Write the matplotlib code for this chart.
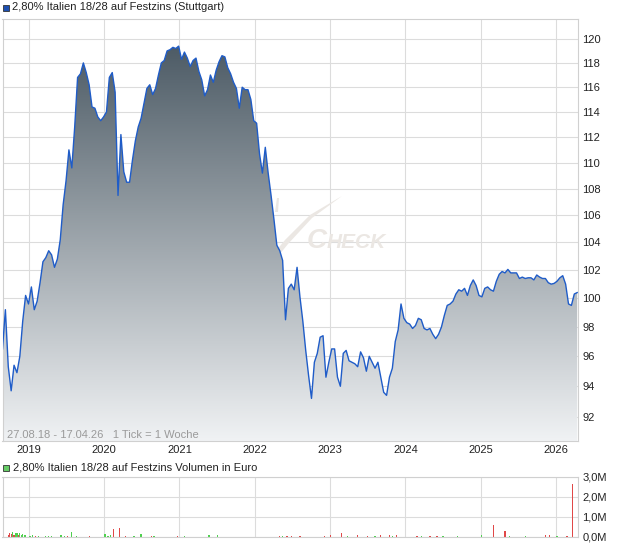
import matplotlib
matplotlib.use("Agg")
import matplotlib.pyplot as plt
import matplotlib.dates as mdates
import matplotlib.ticker as mticker
from matplotlib.colors import LinearSegmentedColormap
from matplotlib.patches import Rectangle, Polygon
import numpy as np
import pandas as pd

plt.rcParams["font.family"] = ["Liberation Sans", "DejaVu Sans"]

title = "2,80% Italien 18/28 auf Festzins (Stuttgart)"
vol_title = "2,80% Italien 18/28 auf Festzins Volumen in Euro"
range_note = "27.08.18 - 17.04.26   1 Tick = 1 Woche"

start, end = "2018-08-27", "2026-04-17"

price = [
    96.5, 99.2, 95.3, 93.7, 95.4, 94.9, 96.0, 98.4, 100.2, 99.6,
    100.8, 99.2, 99.8, 101.1, 102.6, 102.9, 103.4, 103.1, 102.2, 102.8,
    104.2, 106.8, 108.6, 111.0, 109.6, 112.8, 116.8, 117.1, 118.0, 117.2,
    116.2, 114.4, 114.3, 113.6, 113.3, 113.6, 114.0, 116.8, 117.2, 115.6,
    107.5, 112.2, 109.3, 108.5, 108.5, 110.2, 111.7, 112.8, 113.5, 114.7,
    115.9, 116.2, 115.4, 115.9, 117.0, 118.0, 118.2, 119.0, 119.1, 119.3,
    119.2, 119.4, 118.3, 118.9, 118.4, 117.7, 118.2, 118.4, 117.3, 116.6,
    115.3, 115.8, 117.0, 116.4, 117.4, 118.1, 118.6, 118.5, 117.6, 117.1,
    116.4, 115.9, 114.3, 116.0, 115.8, 115.8, 115.0, 113.3, 113.1, 110.7,
    109.2, 111.2, 109.2, 107.5, 105.7, 103.8, 103.4, 102.7, 98.5, 100.7,
    101.0, 100.6, 102.2, 100.1, 98.4, 96.4, 94.7, 93.2, 95.6, 96.2,
    97.3, 97.4, 94.6, 95.6, 96.5, 96.5, 94.6, 94.0, 96.2, 96.4,
    95.7, 95.6, 95.5, 95.3, 96.3, 95.9, 95.0, 96.0, 95.6, 95.2,
    95.6, 94.6, 93.6, 93.4, 94.6, 95.2, 97.0, 97.8, 99.6, 98.6,
    98.3, 98.2, 97.9, 98.1, 98.6, 98.5, 97.9, 97.8, 97.9, 97.5,
    97.2, 97.5, 98.0, 98.8, 99.5, 99.6, 99.8, 100.3, 100.6, 100.5,
    100.7, 100.2, 100.9, 101.3, 100.9, 100.2, 100.1, 100.7, 100.8, 100.6,
    100.5, 101.2, 101.7, 101.9, 101.8, 102.05, 101.8, 101.8, 101.8, 101.4,
    101.5, 101.4, 101.45, 101.45, 101.3, 101.65, 101.5, 101.4, 101.4, 101.1,
    101.0, 101.05, 101.2, 101.45, 101.6, 101.0, 99.6, 99.5, 100.3, 100.4,
]
dates = pd.date_range(start, periods=len(price), freq="14D")

# Volumen in Mio. Euro, g = steigend, r = fallend
vol_dates = [
    "2018-08-27", "2018-09-24", "2018-10-01", "2018-10-08", "2018-10-15",
    "2018-10-22", "2018-10-29", "2018-11-05", "2018-11-12", "2018-11-19",
    "2018-11-26", "2018-12-03", "2018-12-10", "2018-12-17", "2019-01-07",
    "2019-01-21", "2019-02-04", "2019-02-18", "2019-03-25", "2019-04-08",
    "2019-04-22", "2019-06-03", "2019-06-10", "2019-06-24", "2019-07-08",
    "2019-07-29", "2019-08-19", "2019-10-21", "2020-01-06", "2020-01-20",
    "2020-02-03", "2020-02-17", "2020-03-16", "2020-04-13", "2020-05-25",
    "2020-06-29", "2020-08-17", "2020-08-31", "2020-12-21", "2021-01-25",
    "2021-05-24", "2021-07-05", "2022-05-02", "2022-05-16", "2022-06-06",
    "2022-06-27", "2022-08-08", "2022-12-05", "2023-01-02", "2023-02-27",
    "2023-03-27", "2023-05-15", "2023-07-03", "2023-08-07", "2023-09-04",
    "2023-10-16", "2023-10-30", "2023-11-20", "2024-02-26", "2024-03-18",
    "2024-04-29", "2024-06-03", "2024-07-01", "2024-09-09", "2025-01-06",
    "2025-03-03", "2025-04-28", "2025-05-19", "2025-08-04", "2025-11-10",
    "2025-12-01", "2026-01-05", "2026-02-23", "2026-03-23",
]
vol_values = [
    0.06, 0.06, 0.17, 0.12, 0.22, 0.06, 0.17, 0.17, 0.06, 0.17,
    0.06, 0.12, 0.06, 0.06, 0.05, 0.06, 0.05, 0.05, 0.05, 0.05,
    0.05, 0.06, 0.06, 0.05, 0.05, 0.22, 0.05, 0.05, 0.12, 0.05,
    0.06, 0.38, 0.43, 0.05, 0.05, 0.12, 0.05, 0.05, 0.05, 0.05,
    0.06, 0.06, 0.05, 0.05, 0.05, 0.05, 0.05, 0.05, 0.06, 0.17,
    0.05, 0.06, 0.05, 0.05, 0.10, 0.06, 0.05, 0.06, 0.05, 0.05,
    0.05, 0.05, 0.05, 0.05, 0.10, 0.56, 0.27, 0.05, 0.05, 0.08,
    0.06, 0.05, 0.05, 2.65,
]
vol_dir = ("grrrgrggrg" "ggggggrggg" "ggggrggrgg" "grrrggrgrg" "ggrgrrrrrr"
           "grrgrrgrrg" "rrgggrrggr" "rgrr")

price_ticks = list(range(92, 121, 2))
vol_ticks = [0, 1, 2, 3]
years = list(range(2019, 2027))

W, H = 620, 546
fig = plt.figure(figsize=(W / 100, H / 100), dpi=100)


def box(l, t, r, b):
    return [l / W, 1 - b / H, (r - l) / W, (b - t) / H]


grid_c = "#dcdcdc"
x0, x1 = mdates.datestr2num(start), mdates.datestr2num(end)
year_pos = [mdates.datestr2num(f"{y}-01-01") for y in years]

# ---- Kurs
ax = fig.add_axes(box(2.5, 19, 578, 441))
ax.set_autoscale_on(False)
ax.set_yscale("log")
x = mdates.date2num(dates)

fill = ax.fill_between(x, price, 80, color="none", lw=0)
grad = np.linspace(0, 1, 256).reshape(-1, 1)
cmap = LinearSegmentedColormap.from_list("kurs", ["#f0f2f4", "#42515c"])
im = ax.imshow(grad, cmap=cmap, extent=[0, 1, 0, 1], transform=ax.transAxes,
               aspect="auto", origin="lower", zorder=1)
im.set_clip_path(fill.get_paths()[0], transform=ax.transData)
ax.plot(x, price, color="#1f5cc8", lw=1.0, zorder=3)

ax.set_xlim(x0, x1)
ax.set_ylim(90.45, 121.7)


# Wasserzeichen
def px(xp, yp):
    return ((xp - 2.5) / 575.5, (441 - yp) / 422)


wm = "#ebe7e3"
ax.text(*px(307, 248), "C", transform=ax.transAxes, fontsize=20, style="italic",
        weight="bold", color=wm, va="baseline", zorder=0.8)
ax.text(*px(327, 248), "HECK", transform=ax.transAxes, fontsize=15, style="italic",
        weight="bold", color=wm, va="baseline", zorder=0.8)
swoosh = [px(*p) for p in [(262, 268), (285, 240), (310, 215), (342, 196),
                           (312, 218), (288, 244), (267, 270)]]
ax.add_patch(Polygon(swoosh, closed=True, transform=ax.transAxes, fc=wm, ec="none",
                     zorder=0.8))
ax.add_patch(Polygon([px(275, 212), px(277, 198), px(279, 198), px(278, 212)],
                     closed=True, transform=ax.transAxes, fc=wm, ec="none", zorder=0.8))

ax.yaxis.set_major_locator(mticker.FixedLocator(price_ticks))
ax.yaxis.set_minor_locator(mticker.NullLocator())
ax.yaxis.set_major_formatter(mticker.FuncFormatter(lambda v, _: f"{v:.0f}"))
ax.yaxis.tick_right()
ax.set_xticks(year_pos)
ax.set_xticklabels([str(y) for y in years])
ax.tick_params(axis="y", length=0, pad=3, labelsize=8, labelcolor="#222222")
ax.tick_params(axis="x", length=0, pad=3, labelsize=8, labelcolor="#222222")
ax.grid(True, color=grid_c, lw=0.8)
ax.set_axisbelow(True)
for s in ax.spines.values():
    s.set_color("#d0d0d0")
    s.set_linewidth(0.8)

ax.text(*px(7, 435), range_note, transform=ax.transAxes, fontsize=8,
        color="#9a9a9a", va="center", zorder=4)

# ---- Volumen
axv = fig.add_axes(box(2.5, 477, 578, 536.5))
vx = mdates.datestr2num(vol_dates)
vcol = ["#4fd04f" if d == "g" else "#e04848" for d in vol_dir]
axv.bar(vx, vol_values, width=6, color=vcol, lw=0, zorder=2, antialiased=False)
axv.set_xlim(x0, x1)
axv.set_ylim(0, 3)
axv.set_yticks(vol_ticks)
axv.yaxis.set_major_formatter(
    mticker.FuncFormatter(lambda v, _: f"{v:.1f}M".replace(".", ",")))
axv.yaxis.tick_right()
axv.set_xticks(year_pos)
axv.set_xticklabels([])
axv.tick_params(axis="y", length=0, pad=3, labelsize=8, labelcolor="#222222")
axv.tick_params(axis="x", length=0)
axv.grid(True, color=grid_c, lw=0.8)
axv.set_axisbelow(True)
for s in axv.spines.values():
    s.set_color("#d0d0d0")
    s.set_linewidth(0.8)

# ---- Legenden
fig.patches.append(Rectangle((2.5 / W, 1 - 11 / H), 6.5 / W, 6.5 / H,
                             transform=fig.transFigure, fc="#1d4fb0", ec="#333333",
                             lw=0.6))
fig.text(12 / W, 1 - 7.5 / H, title, fontsize=8, va="center", color="#222222")
fig.patches.append(Rectangle((2.5 / W, 1 - 471 / H), 6.5 / W, 6.5 / H,
                             transform=fig.transFigure, fc="#66cc66", ec="#333333",
                             lw=0.6))
fig.text(13 / W, 1 - 467.5 / H, vol_title, fontsize=8, va="center", color="#222222")

fig.savefig("out.png", dpi=100)
